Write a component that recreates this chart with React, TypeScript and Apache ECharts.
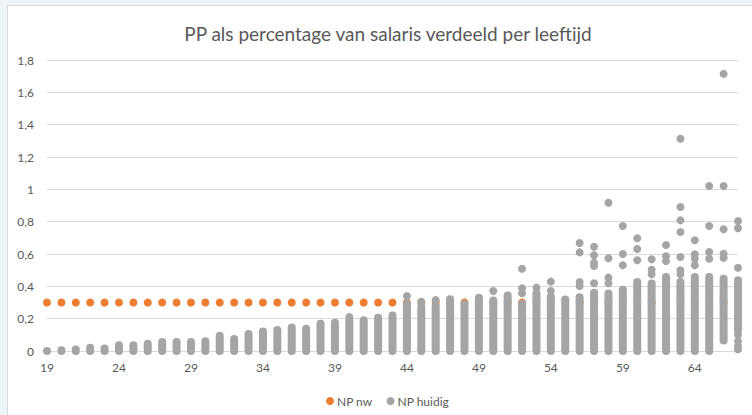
import React, { useEffect, useRef } from "react";
import * as echarts from "echarts";

const TITLE = "PP als percentage van salaris verdeeld per leeftijd";

const ages: string[] = [
  "19","20","21","22","23","24","25","26","27","28","29","30","31","32","33","34","35","36","37","38",
  "39","40","41","42","43","44","45","46","47","48","49","50","51","52","53","54","55","56","57","58",
  "59","60","61","62","63","64","65","66","67",
];

// NP nw: one value per age
const npNw: number[] = [
  0.3,0.3,0.3,0.3,0.3,0.3,0.3,0.3,0.3,0.3,0.3,0.3,0.3,0.3,0.3,0.3,0.3,0.3,0.3,0.3,
  0.3,0.3,0.3,0.3,0.3,0.3,0.3,0.3,0.3,0.3,0.3,0.3,0.3,0.3,0.3,0.3,0.3,0.3,0.3,0.3,
  0.3,0.3,0.3,0.3,0.3,0.3,0.3,0.3,0.3,
];

// NP huidig: dense range of stacked points per age (low .. high)
const huidigLow: number[] = [
  0,0,0,0,0,0,0,0,0,0,0,0,0,0,0,0,0,0,0,0,
  0,0,0,0,0,0,0,0,0,0,0,0,0,0,0,0,0,0,0,0,
  0,0,0,0,0,0,0,0.065,0.13,
];
const huidigHigh: number[] = [
  0,0.005,0.01,0.02,0.015,0.035,0.035,0.045,0.055,0.055,0.055,0.06,0.095,0.075,0.105,0.12,0.13,0.145,0.137,0.168,
  0.174,0.19,0.19,0.205,0.22,0.29,0.27,0.28,0.32,0.29,0.33,0.313,0.344,0.29,0.357,0.336,0.318,0.332,0.361,0.356,
  0.379,0.427,0.417,0.458,0.427,0.458,0.458,0.447,0.437,
];

// NP huidig: separate points outside the dense range
const outlierAges: string[] = [
  "40","44","45","46","50","52","52","52","53","54","54",
  "56","56","56","56","57","57","57","57","57","58","58","58","58",
  "59","59","59","60","60","60","61","61","61","62","62","62",
  "63","63","63","63","63","63","63","64","64","64","64",
  "65","65","65","65","66","66","66","66","66",
  "67","67","67","67","67","67","67",
];
const outlierValues: number[] = [
  0.21,0.34,0.305,0.315,0.371,0.357,0.388,0.509,0.392,0.371,0.429,
  0.402,0.427,0.61,0.668,0.419,0.526,0.546,0.592,0.645,0.419,0.454,0.574,0.917,
  0.53,0.6,0.773,0.561,0.631,0.697,0.474,0.503,0.567,0.557,0.586,0.656,
  0.474,0.499,0.581,0.736,0.808,0.891,1.313,0.53,0.571,0.598,0.685,
  0.571,0.612,0.773,1.021,0.577,0.602,0.753,1.021,1.714,
  0.515,0.759,0.804,0.1,0.06,0.03,0.01,
];

const ORANGE = "#ED7D31";
const GRAY = "#A5A5A5";
const TEXT = "#595959";
const FONT = "Lato, 'Open Sans', sans-serif";
const DOT = 8;

export default function App() {
  const ref = useRef<HTMLDivElement>(null);

  useEffect(() => {
    if (!ref.current) return;
    const chart = echarts.init(ref.current, undefined, { renderer: "svg" });

    const rangeData = ages.map((a, i) => [a, huidigLow[i], huidigHigh[i]]);
    const outlierData = outlierAges.map((a, i) => [a, outlierValues[i]]);

    chart.setOption({
      animation: false,
      backgroundColor: "transparent",
      title: {
        text: TITLE,
        left: 383,
        top: 19,
        textAlign: "center",
        textStyle: { color: TEXT, fontSize: 19, fontWeight: "normal", fontFamily: FONT },
      },
      legend: {
        left: 321,
        top: 390,
        itemWidth: 8,
        itemHeight: 8,
        itemGap: 14,
        data: [
          { name: "NP nw", icon: "circle", itemStyle: { color: ORANGE, opacity: 1 } },
          { name: "NP huidig", icon: "circle", itemStyle: { color: GRAY, opacity: 1 } },
        ],
        textStyle: { color: TEXT, fontSize: 12, fontFamily: FONT, padding: [0, 0, 0, -2] },
      },
      grid: { left: 47, right: 14, top: 60, bottom: 64, containLabel: false },
      xAxis: {
        type: "category",
        data: ages,
        boundaryGap: false,
        axisLine: { show: true, lineStyle: { color: "#D9D9D9" } },
        axisTick: { show: false },
        axisLabel: { interval: 4, color: TEXT, fontSize: 12, fontFamily: FONT, margin: 10 },
        splitLine: { show: false },
      },
      yAxis: {
        type: "value",
        min: 0,
        max: 1.8,
        interval: 0.2,
        axisLine: { show: false },
        axisTick: { show: false },
        axisLabel: {
          color: TEXT,
          fontSize: 12,
          fontFamily: FONT,
          margin: 13,
          formatter: (v: number) => String(Math.round(v * 10) / 10).replace(".", ","),
        },
        splitLine: { lineStyle: { color: "#D9D9D9", width: 1 } },
      },
      series: [
        {
          name: "NP nw",
          type: "scatter",
          z: 1,
          data: npNw,
          symbol: "circle",
          symbolSize: DOT,
          itemStyle: { color: ORANGE, opacity: 1 },
        },
        {
          name: "NP huidig",
          type: "scatter",
          z: 3,
          data: outlierData,
          symbol: "circle",
          symbolSize: DOT,
          itemStyle: { color: GRAY, opacity: 1 },
        },
        {
          name: "NP huidig",
          type: "custom",
          z: 4,
          data: rangeData,
          encode: { x: 0, y: [1, 2] },
          itemStyle: { color: GRAY, opacity: 1 },
          renderItem: (params: any, api: any) => {
            const xi = api.value(0);
            const top = api.coord([xi, api.value(2)]);
            const bot = api.coord([xi, api.value(1)]);
            return {
              type: "rect",
              shape: {
                x: top[0] - DOT / 2,
                y: top[1] - DOT / 2,
                width: DOT,
                height: bot[1] - top[1] + DOT,
                r: DOT / 2,
              },
              style: { fill: GRAY },
            };
          },
        },
      ],
    });

    return () => chart.dispose();
  }, []);

  return (
    <div style={{ position: "fixed", left: 0, top: 0, width: 752, height: 415, background: "#EEF5F9", overflow: "hidden" }}>
      <div
        style={{
          position: "absolute",
          left: 7,
          top: 5,
          width: 800,
          height: 450,
          background: "#FFFFFF",
          border: "1px solid #D9D9D9",
          boxSizing: "border-box",
        }}
      />
      <div ref={ref} style={{ position: "absolute", left: 0, top: 0, width: 752, height: 415 }} />
    </div>
  );
}
